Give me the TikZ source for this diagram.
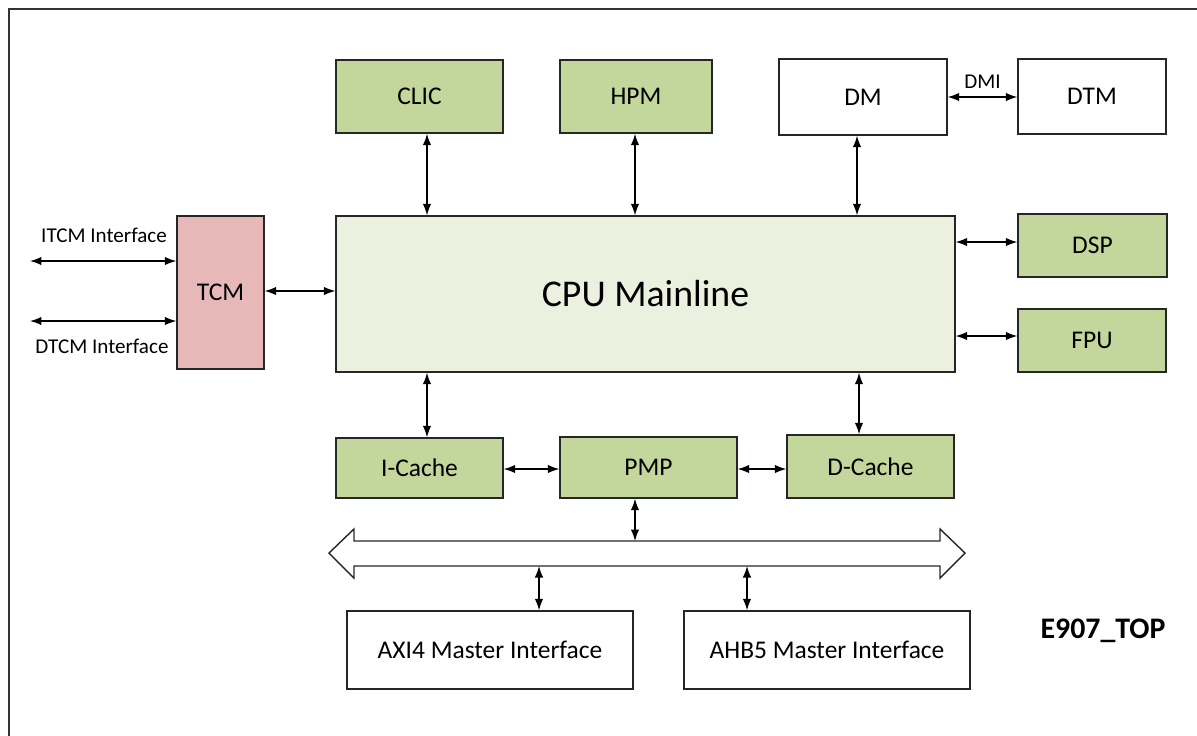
\documentclass[tikz,border=0pt]{standalone}
\usepackage{fontspec}
\setmainfont{Carlito}
\usepackage{tikz}
\usetikzlibrary{arrows.meta}

\definecolor{blkgreen}{HTML}{C3D69B}
\definecolor{cpugreen}{HTML}{EBF1DE}
\definecolor{tcmred}{HTML}{E6B9B8}

\tikzset{
  blk/.style={draw=black!85, line width=0.8pt, fill=blkgreen, font=\fontsize{14.5}{17}\selectfont},
  plainblk/.style={blk, fill=white},
  link/.style={line width=0.75pt, {Latex[length=0.23cm,width=0.17cm]}-{Latex[length=0.23cm,width=0.17cm]}},
  lbl/.style={font=\fontsize{12}{14}\selectfont}
}

\begin{document}
\begin{tikzpicture}[x=0.02cm, y=-0.02cm]
%%% frame %%%
\useasboundingbox (0,0) rectangle (1197,735);
\draw[line width=1.1pt, black!80] (9,9) rectangle (1215,750);

      %% top row
      \node[blk, minimum width=3.34cm, minimum height=1.46cm] (clic) at (419.5,96.5) {CLIC};
      \node[blk, minimum width=3.04cm, minimum height=1.46cm] (hpm) at (636,96.5) {HPM};
      \node[plainblk, minimum width=3.36cm, minimum height=1.52cm] (dm) at (863,97) {DM};
      \node[plainblk, minimum width=2.96cm, minimum height=1.5cm] (dtm) at (1092,96.5) {DTM};

      %% core
      \node[blk, fill=cpugreen, font=\fontsize{21.5}{25}\selectfont,
            minimum width=12.38cm, minimum height=3.12cm] (cpu) at (645.5,294) {CPU Mainline};
      \node[blk, fill=tcmred, minimum width=1.74cm, minimum height=3.06cm] (tcm) at (220.5,292.5) {TCM};
      \node[blk, minimum width=2.98cm, minimum height=1.26cm] (dsp) at (1092.5,245.5) {DSP};
      \node[blk, minimum width=2.96cm, minimum height=1.26cm] (fpu) at (1092,340.5) {FPU};

      %% caches
      \node[blk, minimum width=3.34cm, minimum height=1.2cm] (icache) at (419.5,468) {I-Cache};
      \node[blk, minimum width=3.54cm, minimum height=1.22cm] (pmp) at (648.5,467.5) {PMP};
      \node[blk, minimum width=3.34cm, minimum height=1.26cm] (dcache) at (870.5,466.5) {D-Cache};

      %% master interfaces
      \node[plainblk, minimum width=5.72cm, minimum height=1.56cm] (axi) at (490,650) {AXI4 Master Interface};
      \node[plainblk, minimum width=5.72cm, minimum height=1.56cm] (ahb) at (827,650) {AHB5 Master Interface};

      \node[font=\fontsize{17}{20}\selectfont\bfseries] (top) at (1103,631) {E907\_TOP};

      %% bus
      \draw[line width=0.8pt, black!85] (329,553) -- (354,529) -- (354,541) -- (940,541) -- (940,529)
        -- (965,553) -- (940,578) -- (940,566) -- (354,566) -- (354,578) -- cycle;
      \coordinate (bustop) at (640,541);
      \coordinate (busbot) at (640,566);

      %% connections
      \draw[link] (427,0 |- clic.south) -- (427,0 |- cpu.north);
      \draw[link] (635,0 |- hpm.south) -- (635,0 |- cpu.north);
      \draw[link] (857,0 |- dm.south) -- (857,0 |- cpu.north);
      \draw[link] (dm.east) -- node[lbl, above, yshift=1pt] (dmi) {DMI} (dtm.west |- dm.east);

      \draw[link] (tcm.east |- 0,291) -- (cpu.west |- 0,291);
      \coordinate (itcm) at (30,261);
      \coordinate (dtcm) at (30,321);
      \draw[link] (itcm) -- (itcm -| tcm.west);
      \draw[link] (dtcm) -- (dtcm -| tcm.west);
      \node[lbl] (itcmlbl) at (104,235) {ITCM Interface};
      \node[lbl] (dtcmlbl) at (102,346) {DTCM Interface};

      \draw[link] (cpu.east |- 0,242) -- (dsp.west |- 0,242);
      \draw[link] (cpu.east |- 0,336) -- (fpu.west |- 0,336);

      \draw[link] (427,0 |- cpu.south) -- (427,0 |- icache.north);
      \draw[link] (859,0 |- cpu.south) -- (859,0 |- dcache.north);
      \draw[link] (icache.east |- 0,469) -- (pmp.west |- 0,469);
      \draw[link] (pmp.east |- 0,469) -- (dcache.west |- 0,469);

      \draw[link] (635,0 |- pmp.south) -- (635,0 |- bustop);
      \draw[link] (539,0 |- busbot) -- (539,0 |- axi.north);
      \draw[link] (747,0 |- busbot) -- (747,0 |- ahb.north);

\end{tikzpicture}
\end{document}
